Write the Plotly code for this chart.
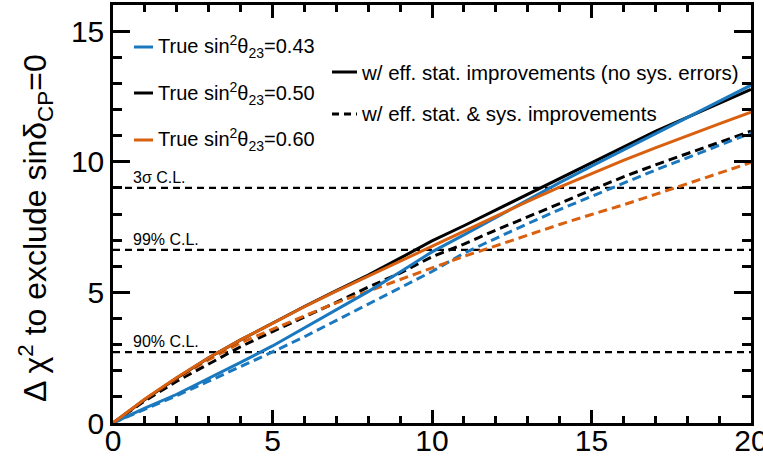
import plotly.graph_objects as go

# Exposure axis (integer steps) and Δχ² sensitivity curves
exposure = [0, 1, 2, 3, 4, 5, 6, 7, 8, 9, 10, 11, 12, 13, 14, 15, 16, 17, 18, 19, 20]

# w/ eff. stat. improvements (no sys. errors)
stat_043 = [0, 0.57, 1.10, 1.70, 2.32, 2.95, 3.65, 4.35, 5.03, 5.78, 6.55, 7.20, 7.87, 8.55, 9.20, 9.83, 10.45, 11.07, 11.70, 12.30, 12.93]
stat_050 = [0, 0.90, 1.72, 2.50, 3.18, 3.83, 4.46, 5.07, 5.66, 6.31, 6.97, 7.55, 8.15, 8.75, 9.35, 9.95, 10.53, 11.16, 11.70, 12.24, 12.77]
stat_060 = [0, 0.92, 1.74, 2.50, 3.18, 3.82, 4.45, 5.05, 5.62, 6.20, 6.79, 7.36, 7.92, 8.48, 9.03, 9.55, 10.05, 10.53, 11.00, 11.45, 11.90]

# w/ eff. stat. & sys. improvements
sys_043 = [0, 0.52, 1.05, 1.60, 2.15, 2.72, 3.30, 3.92, 4.55, 5.17, 5.80, 6.50, 7.07, 7.63, 8.17, 8.68, 9.19, 9.68, 10.15, 10.62, 11.10]
sys_050 = [0, 0.85, 1.60, 2.27, 2.92, 3.50, 4.05, 4.62, 5.20, 5.74, 6.36, 6.85, 7.38, 7.88, 8.40, 8.92, 9.42, 9.88, 10.32, 10.75, 11.17]
sys_060 = [0, 0.90, 1.70, 2.42, 3.07, 3.60, 4.10, 4.60, 5.05, 5.50, 5.95, 6.38, 6.78, 7.20, 7.60, 7.98, 8.35, 8.75, 9.16, 9.57, 9.97]

# Confidence-level thresholds
cl_labels = ["3σ C.L.", "99% C.L.", "90% C.L."]
cl_values = [9.0, 6.63, 2.71]

theta_labels = ["0.43", "0.50", "0.60"]
colors = ["#1A78BE", "black", "#D9600F"]

FONT = "Liberation Sans, Arial, sans-serif"

fig = go.Figure()

# threshold lines
for v in cl_values:
    fig.add_trace(go.Scatter(x=[exposure[0], exposure[-1]], y=[v, v], mode="lines",
                             line=dict(color="black", width=2.3, dash="7px,5px"),
                             hoverinfo="skip"))

dashed = [sys_050, sys_043, sys_060]
solid = [stat_050, stat_043, stat_060]
order_cols = [colors[1], colors[0], colors[2]]
for ys, c in zip(dashed, order_cols):
    fig.add_trace(go.Scatter(x=exposure, y=ys, mode="lines",
                             line=dict(color=c, width=3, dash="9px,5px")))
for ys, c in zip(solid, order_cols):
    fig.add_trace(go.Scatter(x=exposure, y=ys, mode="lines",
                             line=dict(color=c, width=3)))

W, H = 763, 457
L, R, T, B = 113, 12, 5, 34
pw, ph = W - L - R, H - T - B


def px(xp):
    return (xp - L) / pw


def py(yp):
    return (H - B - yp) / ph


shapes = []
annotations = []

# legend for mixing angles
for lab, c, yy in zip(theta_labels, colors, [47, 93, 140]):
    shapes.append(dict(type="line", xref="paper", yref="paper",
                       x0=px(134), x1=px(153), y0=py(yy), y1=py(yy),
                       line=dict(color=c, width=3)))
    annotations.append(dict(xref="paper", yref="paper", x=px(156), y=py(yy),
                            xanchor="left", yanchor="middle", showarrow=False,
                            text=f"True sin<sup>2</sup>θ<sub>23</sub>={lab}",
                            font=dict(family=FONT, size=20, color="black")))

# legend for line styles
style_items = [("solid", "w/ eff. stat. improvements (no sys. errors)", 72),
               ("7px,5px", "w/ eff. stat. & sys. improvements", 114)]
for dash, txt, yy in style_items:
    shapes.append(dict(type="line", xref="paper", yref="paper",
                       x0=px(332), x1=px(357), y0=py(yy), y1=py(yy),
                       line=dict(color="black", width=3, dash=dash)))
    annotations.append(dict(xref="paper", yref="paper", x=px(359), y=py(yy),
                            xanchor="left", yanchor="middle", showarrow=False,
                            text=txt, font=dict(family=FONT, size=20.5, color="black")))

# threshold labels
for lab, v in zip(cl_labels, cl_values):
    annotations.append(dict(xref="x", yref="y", x=0.55, y=v, xanchor="left", yanchor="bottom",
                            yshift=0, showarrow=False, text=lab,
                            font=dict(family=FONT, size=16, color="black")))

# y-axis title
annotations.append(dict(xref="paper", yref="paper", x=px(35), y=py(228),
                        xanchor="center", yanchor="middle", showarrow=False, textangle=-90,
                        text="Δ χ<sup>2</sup> to exclude sinδ<sub>CP</sub>=0",
                        font=dict(family=FONT, size=32, color="black")))

axis_common = dict(showgrid=False, zeroline=False, showline=True, linecolor="black", linewidth=2.5,
                   mirror="ticks", ticks="inside", tickcolor="black", tickwidth=2.5,
                   automargin=False, ticklabeloverflow="allow",
                   tickfont=dict(family=FONT, size=30, color="black"))

fig.update_layout(
    width=W, height=H,
    margin=dict(l=L, r=R, t=T, b=B, autoexpand=False),
    paper_bgcolor="white", plot_bgcolor="white",
    showlegend=False,
    shapes=shapes, annotations=annotations,
    xaxis=dict(range=[0, 20], tick0=0, dtick=5, ticklen=13, ticklabelstandoff=-11,
               minor=dict(dtick=1, ticklen=7, tickwidth=2.5, ticks="inside", tickcolor="black"),
               **axis_common),
    yaxis=dict(range=[0, 16], tick0=0, dtick=5, ticklen=17,
               minor=dict(dtick=1, ticklen=9, tickwidth=2.5, ticks="inside", tickcolor="black"),
               **axis_common),
)

fig.write_html("out.html")
